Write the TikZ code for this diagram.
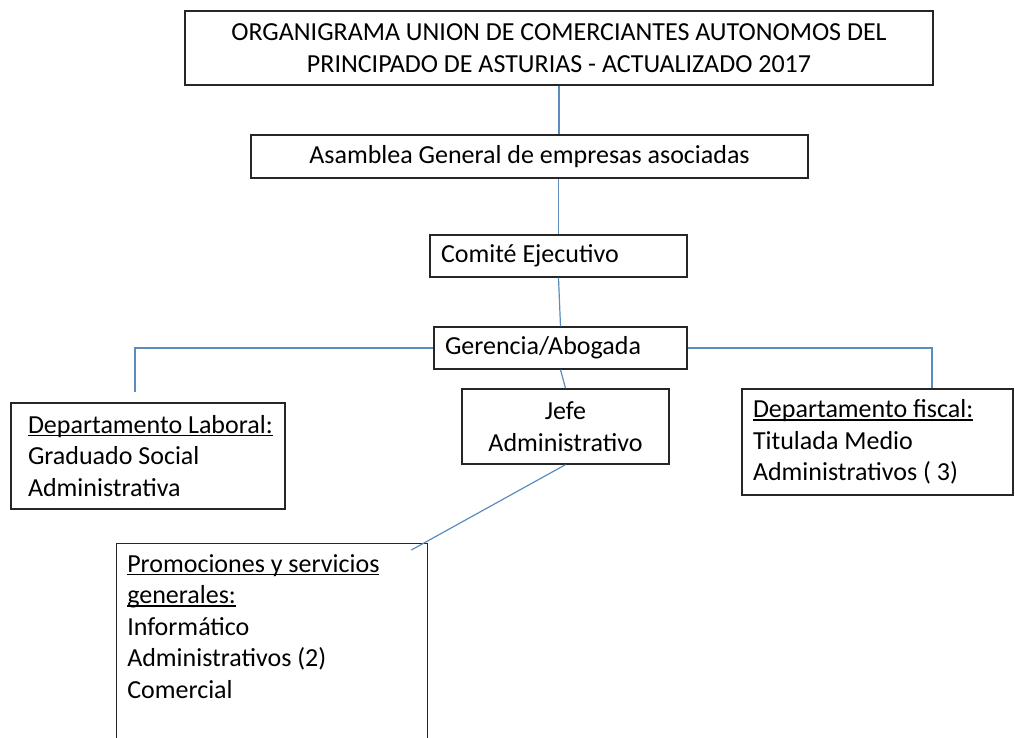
\documentclass[tikz,border=0pt]{standalone}
\usepackage{fontspec}
\setmainfont{Carlito}
\usetikzlibrary{positioning}
\definecolor{linkblue}{RGB}{91,140,190}
\newcommand\ulabel[1]{\setbox0\hbox{#1}\rlap{\rule[-2.2pt]{\wd0}{1.1pt}}\box0}

\begin{document}
\begin{tikzpicture}[x=0.75pt, y=-0.75pt,
  txt/.style={font=\fontsize{19.5}{23.6}\selectfont},
  box/.style={txt, draw=black!85, line width=1pt, fill=white, inner sep=0pt},
  ctr/.style={box, align=center},
  lft/.style={box, align=flush left, inner xsep=8.25pt},
  link/.style={draw=linkblue, line width=0.9pt}]
  \useasboundingbox (0,0) rectangle (1015,738);
  \node[ctr, minimum width=561pt, minimum height=55.5pt] (title) at (559,48) {ORGANIGRAMA UNION DE COMERCIANTES AUTONOMOS DEL\\PRINCIPADO DE ASTURIAS - ACTUALIZADO 2017};
  \node[ctr, minimum width=417.75pt, minimum height=32.25pt] (asamblea) at (529.5,156.5) {Asamblea General de empresas asociadas};
  \node[lft, text width=176.25pt, minimum height=31.5pt] (comite) at (558.5,256) {Comité Ejecutivo};
  \node[lft, text width=173.25pt, minimum height=31.5pt] (gerencia) at (560.5,348) {Gerencia/Abogada};
  \node[ctr, minimum width=155.25pt, minimum height=56.25pt] (jefe) at (565.5,426.5) {Jefe\\Administrativo};
  \node[lft, inner xsep=12.75pt, text width=180pt, minimum height=79.5pt] (laboral) at (148,456) {\ulabel{Departamento Laboral:}\\Graduado Social\\Administrativa};
  \node[lft, text width=186.75pt, minimum height=79.5pt] (fiscal) at (877.5,442) {\ulabel{Departamento fiscal:}\\Titulada Medio\\Administrativos ( 3)};
  \node[box, anchor=north west, minimum width=233.25pt, minimum height=157.5pt] (prom) at (116,543) {};
  \node[txt, anchor=north west, align=flush left, inner sep=8.25pt] (promtxt) at (prom.north west) {\ulabel{Promociones y servicios}\\\ulabel{generales:}\\Informático\\Administrativos (2)\\Comercial};

  \draw[link] (title.south) -- (title.south |- asamblea.north);
  \draw[link] (comite.north |- asamblea.south) -- (comite.north);
  \draw[link] (comite.south) -- (gerencia.north);
  \draw[link] (gerencia.south) -- (jefe.north);
  \draw[link] (gerencia.west) -| ([xshift=-9.75pt, yshift=7.5pt]laboral.north);
  \draw[link] (gerencia.east) -| ([xshift=40.9pt]fiscal.north);
  \draw[link] (jefe.south) -- ([xshift=-12.75pt, yshift=-5.25pt]prom.north east);
\end{tikzpicture}
\end{document}
